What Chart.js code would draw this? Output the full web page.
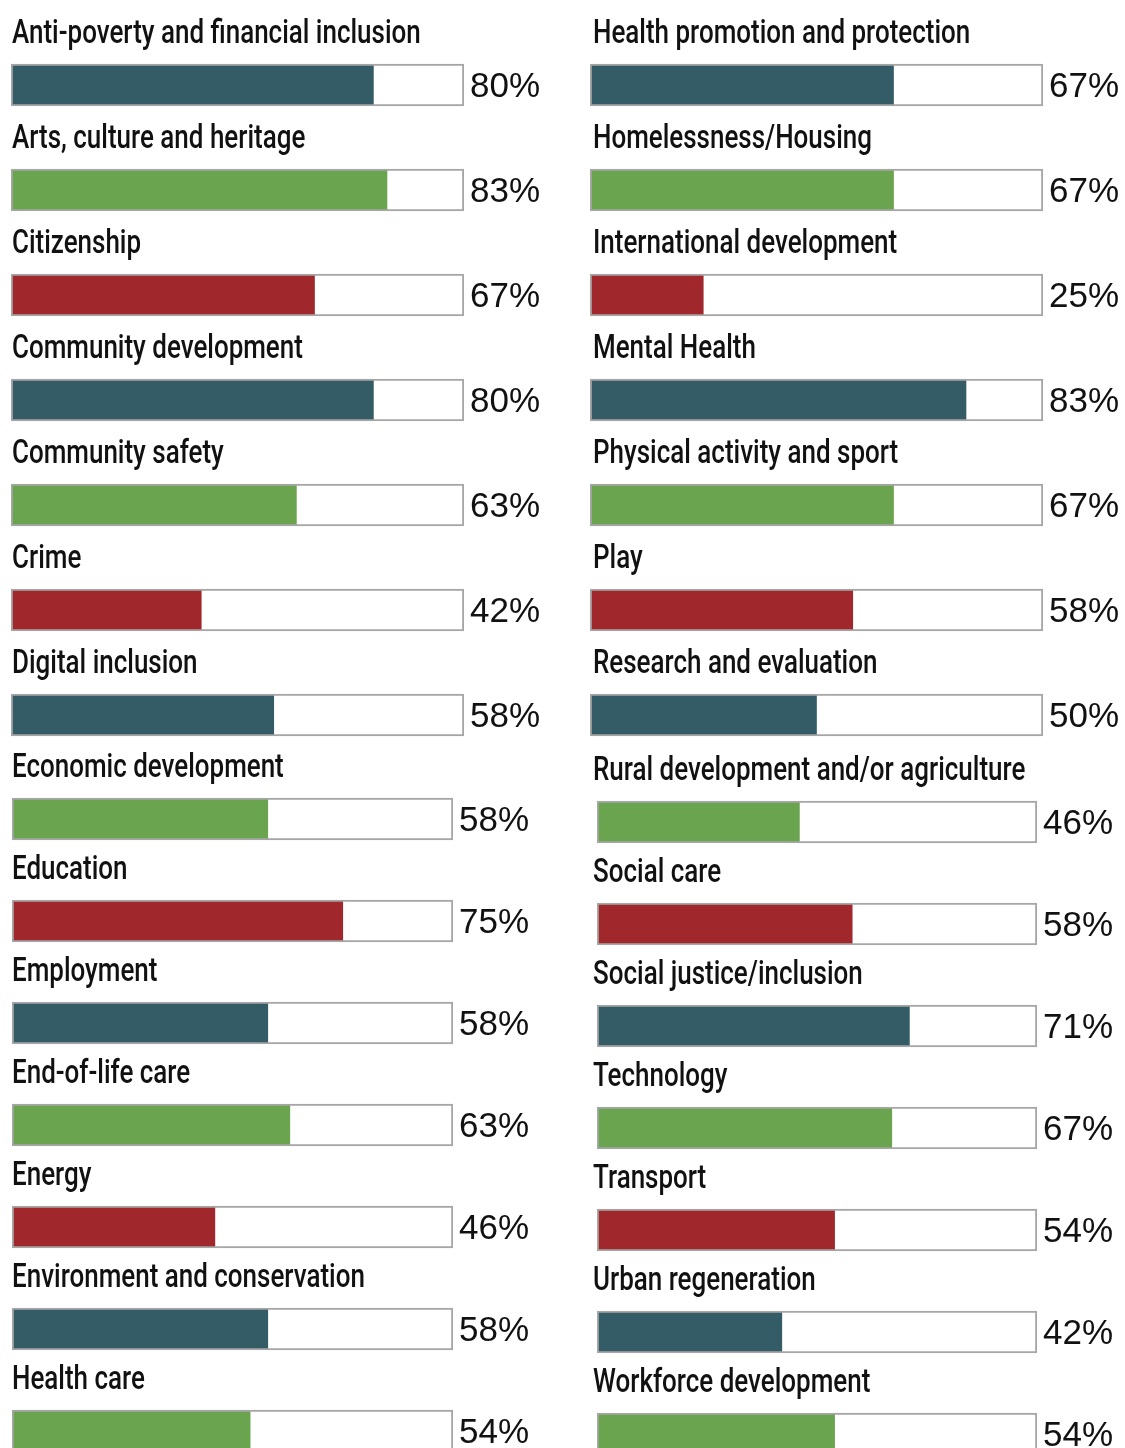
<!DOCTYPE html>
<html>
<head>
<meta charset="utf-8">
<script src="https://cdn.jsdelivr.net/npm/chart.js@4.4.1/dist/chart.umd.min.js"></script>
<style>
    html, body { margin: 0; padding: 0; background: #fff; overflow: hidden; }
    #page { position: relative; width: 1125px; height: 1448px; overflow: hidden; }
    #page canvas { position: absolute; }
</style>
</head>
<body>
<div id="page">
    <canvas id="leftTop" width="570" height="770" style="left:0;top:0"></canvas>
    <canvas id="leftBottom" width="570" height="760" style="left:0;top:740px"></canvas>
    <canvas id="rightTop" width="550" height="770" style="left:575px;top:0"></canvas>
    <canvas id="rightBottom" width="550" height="760" style="left:575px;top:740px"></canvas>
</div>
<script>
const leftCategories = [
    'Anti-poverty and financial inclusion', 'Arts, culture and heritage', 'Citizenship',
    'Community development', 'Community safety', 'Crime', 'Digital inclusion',
    'Economic development', 'Education', 'Employment', 'End-of-life care', 'Energy',
    'Environment and conservation', 'Health care'
];
const leftValues = [80, 83, 67, 80, 63, 42, 58, 58, 75, 58, 63, 46, 58, 54];

const rightCategories = [
    'Health promotion and protection', 'Homelessness/Housing', 'International development',
    'Mental Health', 'Physical activity and sport', 'Play', 'Research and evaluation',
    'Rural development and/or agriculture', 'Social care', 'Social justice/inclusion',
    'Technology', 'Transport', 'Urban regeneration', 'Workforce development'
];
const rightValues = [67, 67, 25, 83, 67, 58, 50, 46, 58, 71, 67, 54, 42, 54];

const fullScale = 100;
const palette = ['#345c66', '#6aa44e', '#a0282c'];

// labels above the bars + percentage to the right of the frame
const rowLabels = {
    id: 'rowLabels',
    afterDatasetsDraw(chart, args, opts) {
        const ctx = chart.ctx;
        const frameMeta = chart.getDatasetMeta(1);
        const values = chart.data.datasets[0].data;

        ctx.save();
        ctx.fillStyle = '#111';
        frameMeta.data.forEach((bar, i) => {
            const p = bar.getProps(['x', 'y', 'height'], true);
            const top = p.y - p.height / 2;

            // condensed look: squeeze a regular face horizontally
            ctx.save();
            ctx.translate(opts.labelX, top - opts.labelGap);
            ctx.scale(0.787, 1);
            ctx.font = '500 33px Roboto';
            ctx.textBaseline = 'alphabetic';
            ctx.textAlign = 'left';
            ctx.fillText(chart.data.labels[i], 0, 0);
            ctx.restore();

            ctx.font = '35px "Liberation Sans", Arial, sans-serif';
            ctx.textBaseline = 'middle';
            ctx.textAlign = 'left';
            ctx.fillText(values[i] + '%', p.x + 6, p.y + 2);
        });
        ctx.restore();
    }
};

function makeColumnChart(id, categories, values, first, padding, labelX) {
    const ctx = document.getElementById(id);
    return new Chart(ctx, {
        type: 'bar',
        data: {
            labels: categories,
            datasets: [{
                data: values,
                backgroundColor: values.map((v, i) => palette[(first + i) % 3]),
                barThickness: 40,
                grouped: false,
                order: 2
            }, {
                data: values.map(() => fullScale),
                backgroundColor: 'rgba(0,0,0,0)',
                borderColor: '#a6a6a6',
                borderWidth: 1.5,
                borderSkipped: false,
                barThickness: 42,
                grouped: false,
                order: 1
            }]
        },
        options: {
            indexAxis: 'y',
            responsive: false,
            animation: false,
            layout: { padding: padding },
            plugins: {
                legend: { display: false },
                tooltip: { enabled: false },
                rowLabels: { labelX: labelX, labelGap: 21 }
            },
            scales: {
                x: { display: false, min: 0, max: fullScale },
                y: { display: false }
            }
        },
        plugins: [rowLabels]
    });
}

makeColumnChart('leftTop', leftCategories.slice(0, 7), leftValues.slice(0, 7), 0,
    { left: 11, right: 106, top: 32.5, bottom: 2.5 }, 12);
makeColumnChart('leftBottom', leftCategories.slice(7), leftValues.slice(7), 7,
    { left: 12, right: 117, top: 28, bottom: 18 }, 12);
makeColumnChart('rightTop', rightCategories.slice(0, 7), rightValues.slice(0, 7), 0,
    { left: 15, right: 82, top: 32.5, bottom: 2.5 }, 18);
makeColumnChart('rightBottom', rightCategories.slice(7), rightValues.slice(7), 7,
    { left: 22, right: 88, top: 31, bottom: 15 }, 18);
</script>
</body>
</html>
